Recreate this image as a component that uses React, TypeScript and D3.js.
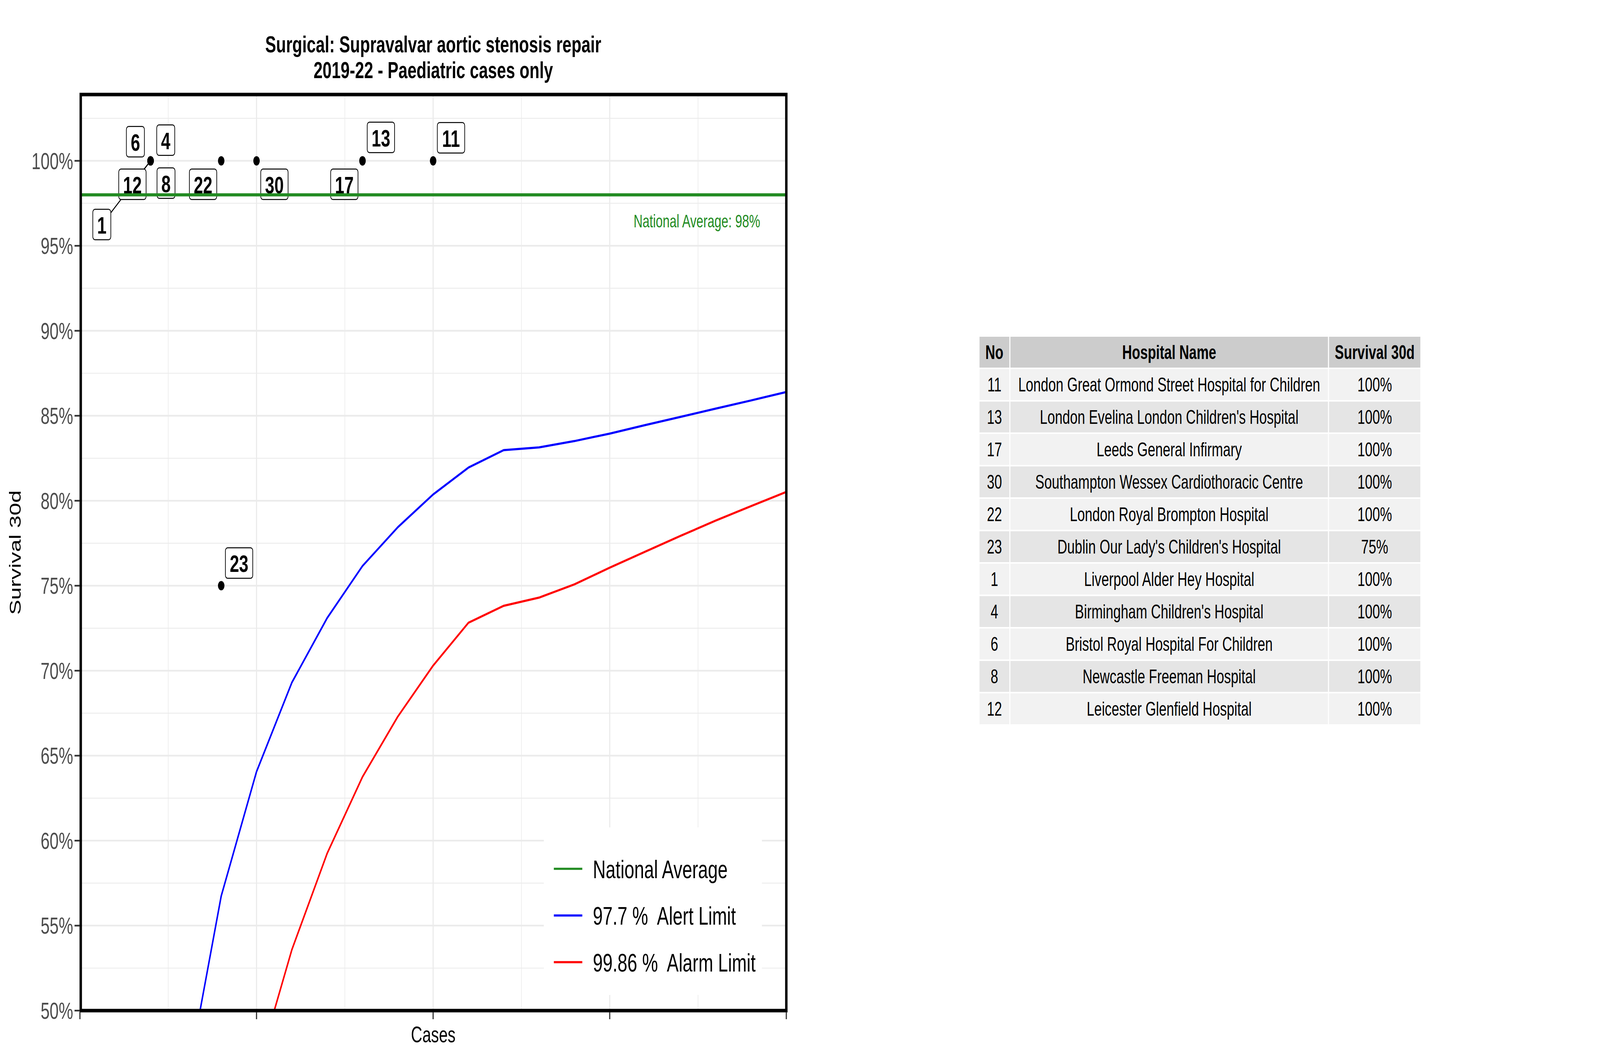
import * as d3 from "d3"

// ---- data ----
const hospitalNo = [11, 13, 17, 30, 22, 23, 1, 4, 6, 8, 12]
const hospitalName = [
  "London Great Ormond Street Hospital for Children",
  "London Evelina London Children's Hospital",
  "Leeds General Infirmary",
  "Southampton Wessex Cardiothoracic Centre",
  "London Royal Brompton Hospital",
  "Dublin Our Lady's Children's Hospital",
  "Liverpool Alder Hey Hospital",
  "Birmingham Children's Hospital",
  "Bristol Royal Hospital For Children",
  "Newcastle Freeman Hospital",
  "Leicester Glenfield Hospital",
]
const hospitalCases = [10, 8, 8, 5, 4, 4, 2, 2, 2, 2, 2]
const hospitalSurvival = [100, 100, 100, 100, 100, 75, 100, 100, 100, 100, 100]

const nationalAverage = 98

const alertCases = [3, 4, 5, 6, 7, 8, 9, 10, 11, 12, 13, 14, 15, 16, 17, 18, 19, 20]
const alertValues = [45.5, 56.74, 64.06, 69.3, 73.1, 76.16, 78.44, 80.37, 81.95, 82.98, 83.14, 83.51, 83.95, 84.45, 84.93, 85.42, 85.9, 86.4]
const alarmCases = [5, 6, 7, 8, 9, 10, 11, 12, 13, 14, 15, 16, 17, 18, 19, 20]
const alarmValues = [46.4, 53.58, 59.25, 63.75, 67.3, 70.3, 72.82, 73.82, 74.3, 75.08, 76.06, 77.0, 77.93, 78.83, 79.68, 80.52]

const yTicks = [50, 55, 60, 65, 70, 75, 80, 85, 90, 95, 100]
const xTicks = [0, 5, 10, 15, 20]
const legendLabels = ["National Average", "97.7 %  Alert Limit", "99.86 %  Alarm Limit"]
const legendColors = ["#228B22", "#0000FF", "#FF0000"]
const tableHeader = ["No", "Hospital Name", "Survival 30d"]

// ---- layout ----
const W = 5905
const H = 2716
const P = { left: 296, right: 2902, top: 242, bottom: 2587 }
const FONT = "'Liberation Sans', Arial, sans-serif"

// label placement (ggrepel result), offsets of label centre from the point in px
const labelLayout: Record<number, { dx: number; dy: number; segment?: boolean }> = {
  11: { dx: 66, dy: -59 },
  13: { dx: 68, dy: -60 },
  17: { dx: -67, dy: 60 },
  30: { dx: 66, dy: 60 },
  22: { dx: -67, dy: 60 },
  23: { dx: 66, dy: -58 },
  1: { dx: -180, dy: 163, segment: true },
  4: { dx: 56, dy: -53 },
  6: { dx: -56, dy: -49 },
  8: { dx: 57, dy: 57 },
  12: { dx: -67, dy: 60, segment: true },
}

const tableCols = [3613, 3727, 4903, 5244]
const tableTop = 860
const rowH = 83

export default function App() {
  const x = d3.scaleLinear().domain([0, 20]).range([295, P.right])
  const y = d3.scaleLinear().domain([50, 103.9]).range([P.bottom, P.top])

  const line = d3
    .line<[number, number]>()
    .x((d) => x(d[0]))
    .y((d) => y(d[1]))

  const alertPath = line(alertCases.map((c, i) => [c, alertValues[i]]))
  const alarmPath = line(alarmCases.map((c, i) => [c, alarmValues[i]]))

  const majorY = yTicks
  const minorY = d3.range(52.5, 103.9, 5)
  const minorX = d3.range(2.5, 20, 5)

  const labelFont = 62
  const labelH = 78

  const labels = hospitalNo.map((no, i) => {
    const px = x(hospitalCases[i])
    const py = y(hospitalSurvival[i])
    const lay = labelLayout[no]
    const cx = px + lay.dx
    const cy = py + lay.dy
    const w = String(no).length * 0.556 * labelFont + 32
    let seg: [number, number, number, number] | null = null
    if (lay.segment) {
      const hx = w / 2
      const hy = labelH / 2
      const s = Math.min(hx / Math.abs(px - cx), hy / Math.abs(py - cy))
      seg = [px, py, cx + (px - cx) * s, cy + (py - cy) * s]
    }
    return { no, px, py, cx, cy, w, seg }
  })

  return (
    <svg
      viewBox={`0 0 ${W} ${H}`}
      preserveAspectRatio="none"
      style={{ position: "absolute", left: 0, top: 0, width: "100vw", height: "100vh", display: "block", background: "#fff" }}
      fontFamily={FONT}
    >
      <defs>
        <clipPath id="panel">
          <rect x={P.left} y={P.top} width={P.right - P.left} height={P.bottom - P.top} />
        </clipPath>
      </defs>
      <rect x={0} y={0} width={W} height={H} fill="#fff" />

      {/* title */}
      <text x={(P.left + P.right) / 2} y={134} textAnchor="middle" fontSize={60} fontWeight="bold">
        Surgical: Supravalvar aortic stenosis repair
      </text>
      <text x={(P.left + P.right) / 2} y={200} textAnchor="middle" fontSize={60} fontWeight="bold">
        2019-22 - Paediatric cases only
      </text>

      {/* grid */}
      <g clipPath="url(#panel)">
        {minorY.map((v) => (
          <line key={"my" + v} x1={P.left} x2={P.right} y1={y(v)} y2={y(v)} stroke="#ebebeb" strokeWidth={2.2} />
        ))}
        {minorX.map((v) => (
          <line key={"mx" + v} x1={x(v)} x2={x(v)} y1={P.top} y2={P.bottom} stroke="#ebebeb" strokeWidth={2.2} />
        ))}
        {majorY.map((v) => (
          <line key={"gy" + v} x1={P.left} x2={P.right} y1={y(v)} y2={y(v)} stroke="#ebebeb" strokeWidth={4.3} />
        ))}
        {xTicks.map((v) => (
          <line key={"gx" + v} x1={x(v)} x2={x(v)} y1={P.top} y2={P.bottom} stroke="#ebebeb" strokeWidth={4.3} />
        ))}

        <path d={alertPath ?? ""} fill="none" stroke="#0000FF" strokeWidth={5.5} strokeLinejoin="round" />
        <path d={alarmPath ?? ""} fill="none" stroke="#FF0000" strokeWidth={5.5} strokeLinejoin="round" />

        {labels.map((l) =>
          l.seg ? (
            <line key={"s" + l.no} x1={l.seg[0]} y1={l.seg[1]} x2={l.seg[2]} y2={l.seg[3]} stroke="#000" strokeWidth={3} />
          ) : null
        )}
        {labels.map((l) => (
          <ellipse key={"p" + l.no} cx={l.px} cy={l.py} rx={12} ry={12} fill="#000" />
        ))}
        {labels.map((l) => (
          <g key={"l" + l.no}>
            <rect
              x={l.cx - l.w / 2}
              y={l.cy - labelH / 2}
              width={l.w}
              height={labelH}
              rx={8}
              fill="#fff"
              stroke="#000"
              strokeWidth={2.5}
            />
            <text x={l.cx} y={l.cy + 23} textAnchor="middle" fontSize={labelFont} fontWeight="bold">
              {l.no}
            </text>
          </g>
        ))}

        <line
          x1={P.left}
          x2={P.right}
          y1={y(nationalAverage)}
          y2={y(nationalAverage)}
          stroke="#228B22"
          strokeWidth={8}
        />
        <text x={x(19.26)} y={y(96.08)} textAnchor="end" fontSize={46} fill="#228B22">
          National Average: {nationalAverage}%
        </text>
      </g>

      {/* legend */}
      <g>
        <rect x={2007} y={2118} width={805} height={429} fill="#fff" />
        {legendLabels.map((t, i) => (
          <g key={t}>
            <line x1={2044} x2={2149} y1={2224 + i * 119.5} y2={2224 + i * 119.5} stroke={legendColors[i]} strokeWidth={5.5} />
            <text x={2188} y={2224 + i * 119.5 + 24} fontSize={65.5} style={{ whiteSpace: "pre" }}>
              {t}
            </text>
          </g>
        ))}
      </g>

      {/* panel border */}
      <rect
        x={P.left + 2}
        y={P.top}
        width={P.right - P.left - 2}
        height={P.bottom - P.top}
        fill="none"
        stroke="#000"
        strokeWidth={9}
      />

      {/* y axis */}
      {yTicks.map((v) => (
        <g key={"yt" + v}>
          <line x1={275} x2={294} y1={y(v)} y2={y(v)} stroke="#333" strokeWidth={4.3} />
          <text x={270} y={y(v) + 21} textAnchor="end" fontSize={60} fill="#4d4d4d">
            {v}%
          </text>
        </g>
      ))}
      {/* x axis */}
      {xTicks.map((v) => (
        <line key={"xt" + v} x1={x(v)} x2={x(v)} y1={P.bottom + 4} y2={P.bottom + 22} stroke="#333" strokeWidth={4.3} />
      ))}

      <text x={(P.left + P.right) / 2} y={2668} textAnchor="middle" fontSize={58}>
        Cases
      </text>
      <text transform={`translate(77,${(P.top + P.bottom) / 2}) rotate(-90)`} textAnchor="middle" fontSize={58}>
        Survival 30d
      </text>

      {/* table */}
      <g fontSize={50}>
        {tableHeader.map((h, c) => (
          <g key={"h" + c}>
            <rect
              x={tableCols[c] + 2}
              y={tableTop + 2}
              width={tableCols[c + 1] - tableCols[c] - 4}
              height={rowH - 4}
              fill="#cccccc"
            />
            <text x={(tableCols[c] + tableCols[c + 1]) / 2} y={tableTop + rowH / 2 + 18} textAnchor="middle" fontWeight="bold">
              {h}
            </text>
          </g>
        ))}
        {hospitalNo.map((no, r) => {
          const cells = [String(no), hospitalName[r], `${hospitalSurvival[r]}%`]
          const top = tableTop + (r + 1) * rowH
          return (
            <g key={"r" + r}>
              {cells.map((t, c) => (
                <g key={c}>
                  <rect
                    x={tableCols[c] + 2}
                    y={top + 2}
                    width={tableCols[c + 1] - tableCols[c] - 4}
                    height={rowH - 4}
                    fill={r % 2 === 0 ? "#f2f2f2" : "#e5e5e5"}
                  />
                  <text x={(tableCols[c] + tableCols[c + 1]) / 2} y={top + rowH / 2 + 18} textAnchor="middle">
                    {t}
                  </text>
                </g>
              ))}
            </g>
          )
        })}
      </g>
    </svg>
  )
}
